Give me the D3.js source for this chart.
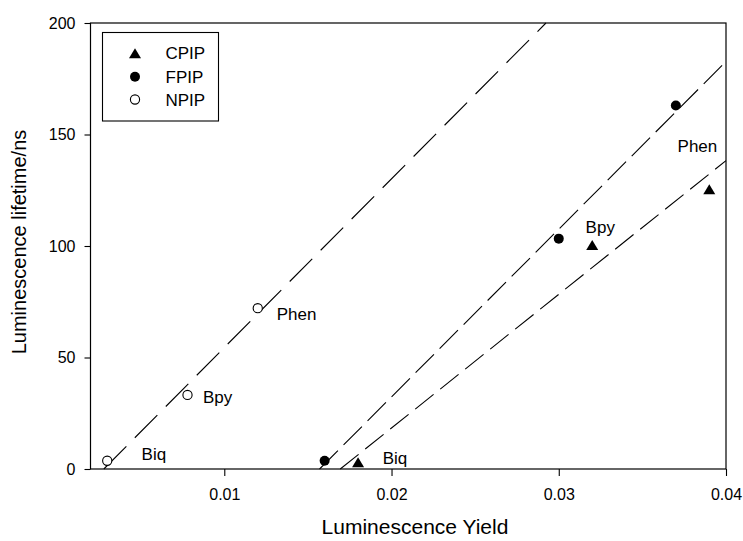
<!DOCTYPE html>
<html>
<head>
<meta charset="utf-8">
<script src="https://cdn.jsdelivr.net/npm/d3@7"></script>
<style>
  html, body { margin: 0; padding: 0; background: #fff; }
  svg { display: block; }
  text { font-family: "Liberation Sans", Arial, Helvetica, sans-serif; fill: #000; }
</style>
</head>
<body>
<svg id="chart" width="743" height="541"></svg>
<script>
// ---- data ----
const seriesNames = ["CPIP", "FPIP", "NPIP"];
const cpipX = [0.018, 0.032, 0.039];
const cpipY = [3, 100.5, 125.5];
const fpipX = [0.016, 0.030, 0.037];
const fpipY = [3.7, 103.3, 163];
const npipX = [0.003, 0.0078, 0.012];
const npipY = [3.7, 33.2, 72.1];
const ligands = ["Biq", "Bpy", "Phen"];
const xTicks = [0.01, 0.02, 0.03, 0.04];
const xTickLabels = ["0.01", "0.02", "0.03", "0.04"];
const yTicks = [0, 50, 100, 150, 200];
const yTickLabels = ["0", "50", "100", "150", "200"];
const xDomain = [0.002, 0.04];
const yDomain = [0, 200];
const xTitle = "Luminescence Yield";
const yTitle = "Luminescence lifetime/ns";

// ---- layout ----
const svg = d3.select("#chart");
const plotL = 90.5, plotR = 726, plotT = 23, plotB = 469;
const x = d3.scaleLinear().domain(xDomain).range([plotL, plotR]);
const y = d3.scaleLinear().domain(yDomain).range([plotB, plotT]);

const series = [
  { name: "CPIP", xs: cpipX, ys: cpipY, marker: "triangle", dash: "23.5,8.5" },
  { name: "FPIP", xs: fpipX, ys: fpipY, marker: "filled", dash: "26,8" },
  { name: "NPIP", xs: npipX, ys: npipY, marker: "open", dash: "32,12" }
];

function fit(xs, ys) {
  const mx = d3.mean(xs), my = d3.mean(ys);
  let sxx = 0, sxy = 0;
  xs.forEach((v, i) => { sxx += (v - mx) * (v - mx); sxy += (v - mx) * (ys[i] - my); });
  const slope = sxy / sxx;
  return { slope, intercept: my - slope * mx };
}

// regression lines (drawn from y=0 upward, limited to the frame)
series.forEach(s => {
  const f = fit(s.xs, s.ys);
  const x0 = Math.max(xDomain[0], (yDomain[0] - f.intercept) / f.slope);
  const x1 = Math.min(xDomain[1], (yDomain[1] - f.intercept) / f.slope);
  const pts = [[x0, f.slope * x0 + f.intercept], [x1, f.slope * x1 + f.intercept]];
  svg.append("path")
    .attr("d", d3.line().x(d => x(d[0])).y(d => y(d[1]))(pts))
    .attr("fill", "none")
    .attr("stroke", "#000")
    .attr("stroke-width", 1.1)
    .attr("stroke-dasharray", s.dash);
});

// frame
svg.append("rect")
  .attr("x", plotL).attr("y", plotT)
  .attr("width", plotR - plotL).attr("height", plotB - plotT)
  .attr("fill", "none").attr("stroke", "#000").attr("stroke-width", 1.2);

// axes
const xAxis = d3.axisBottom(x).tickValues(xTicks).tickSize(7).tickPadding(12.5)
  .tickFormat((d, i) => xTickLabels[i]);
const gx = svg.append("g").attr("transform", `translate(0,${plotB})`).call(xAxis);
gx.select(".domain").remove();
gx.selectAll("line").attr("stroke", "#000").attr("stroke-width", 1.1);
gx.selectAll("text").style("font-family", '"Liberation Sans", Arial, sans-serif')
  .attr("font-size", 16).attr("fill", "#000");

const yAxis = d3.axisLeft(y).tickValues(yTicks).tickSize(6).tickPadding(9)
  .tickFormat((d, i) => yTickLabels[i]);
const gy = svg.append("g").attr("transform", `translate(${plotL},0)`).call(yAxis);
gy.select(".domain").remove();
gy.selectAll("line").attr("stroke", "#000").attr("stroke-width", 1.1);
gy.selectAll("text").style("font-family", '"Liberation Sans", Arial, sans-serif')
  .attr("font-size", 16).attr("fill", "#000");

// axis titles
svg.append("text").attr("x", 415).attr("y", 534)
  .attr("text-anchor", "middle").attr("font-size", 21).text(xTitle);
svg.append("text").attr("transform", "translate(26,242) rotate(-90)")
  .attr("text-anchor", "middle").attr("font-size", 20).text(yTitle);

// markers
const triPath = "M0,-5L6,5L-6,5Z";
function drawMarker(g, type, px, py) {
  if (type === "triangle") {
    g.append("path").attr("d", triPath).attr("transform", `translate(${px},${py})`).attr("fill", "#000");
  } else if (type === "filled") {
    g.append("circle").attr("cx", px).attr("cy", py).attr("r", 5).attr("fill", "#000");
  } else {
    g.append("circle").attr("cx", px).attr("cy", py).attr("r", 4.6)
      .attr("fill", "#fff").attr("stroke", "#000").attr("stroke-width", 1.1);
  }
}
const gm = svg.append("g");
series.forEach(s => s.xs.forEach((v, i) => drawMarker(gm, s.marker, x(v), y(s.ys[i]))));

// ligand labels (offsets relative to their points)
const labelOffsets = {
  NPIP: [[34.4, -0.7], [15.4, 7.7], [19, 11.7]],
  CPIP: [[24.6, 1.6], [-6.6, -12.3], [-31.7, -37.3]]
};
Object.keys(labelOffsets).forEach(name => {
  const s = series.find(d => d.name === name);
  ligands.forEach((lab, i) => {
    svg.append("text")
      .attr("x", x(s.xs[i]) + labelOffsets[name][i][0])
      .attr("y", y(s.ys[i]) + labelOffsets[name][i][1])
      .attr("font-size", 17).text(lab);
  });
});

// legend
const lg = svg.append("g");
lg.append("rect").attr("x", 102.5).attr("y", 32.5).attr("width", 116).attr("height", 88.5)
  .attr("fill", "#fff").attr("stroke", "#000").attr("stroke-width", 1.1);
const legendRowY = [53.3, 76.7, 99.5];
series.forEach((s, i) => {
  drawMarker(lg, s.marker, 135, legendRowY[i]);
  lg.append("text").attr("x", 165.5).attr("y", legendRowY[i]).attr("dy", "0.36em")
    .attr("font-size", 17).text(seriesNames[i]);
});
</script>
</body>
</html>
